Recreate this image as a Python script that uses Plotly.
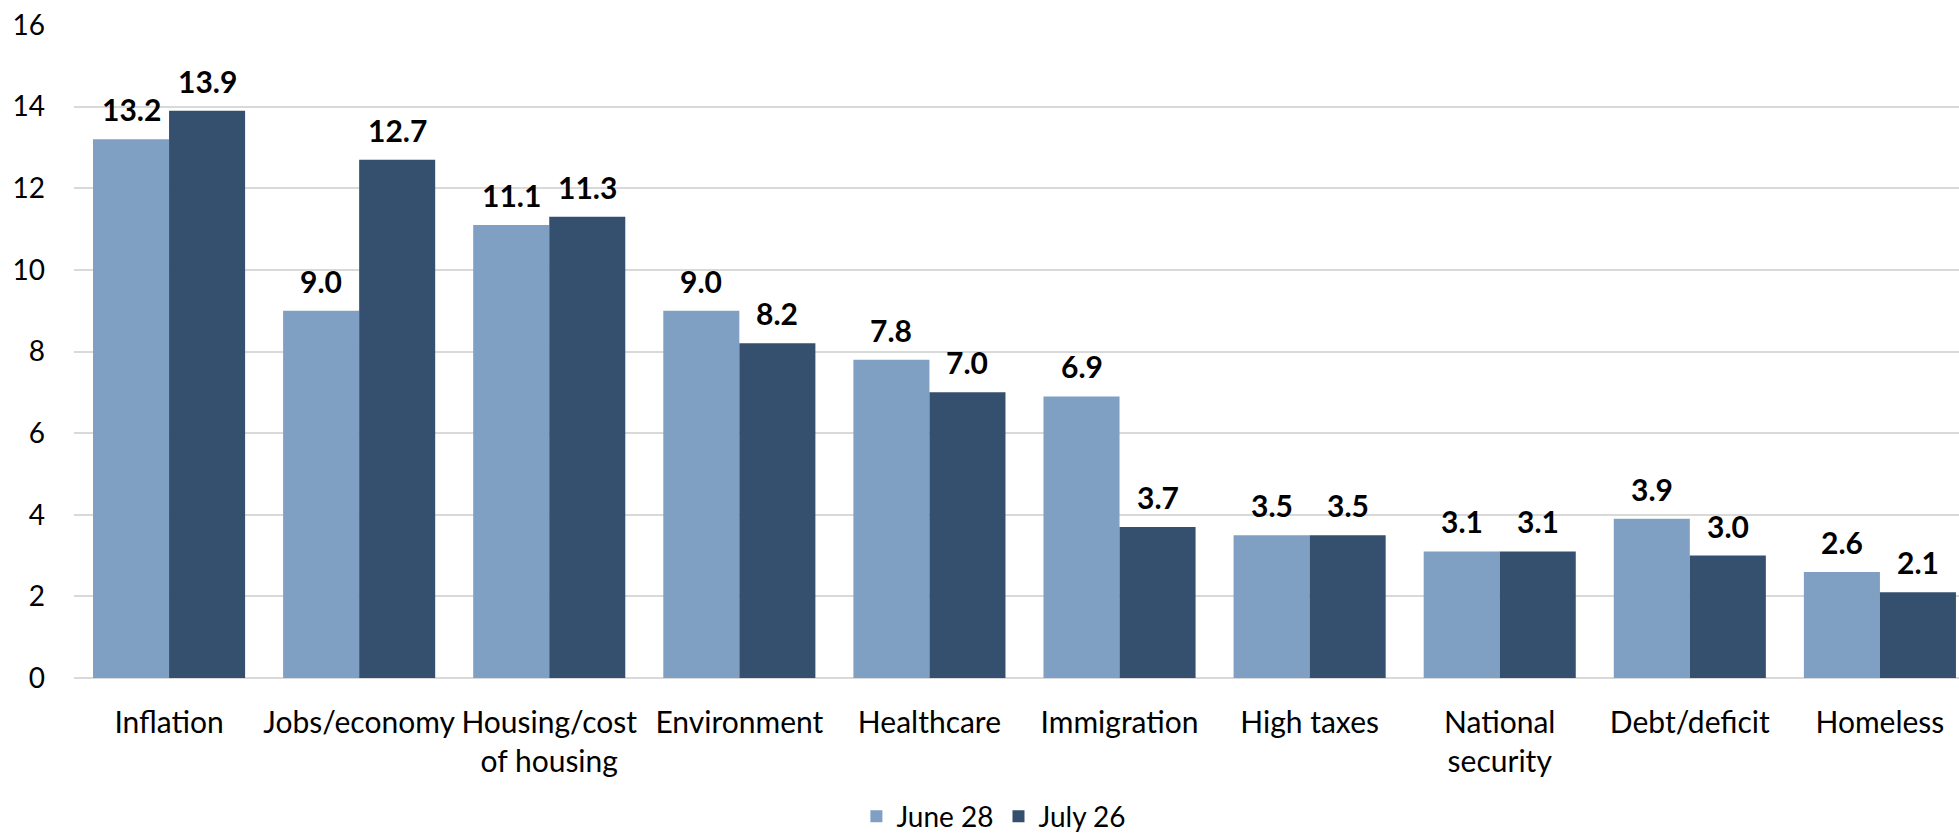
import plotly.graph_objects as go

categories = ["Inflation", "Jobs/economy", "Housing/cost<br>of housing", "Environment",
              "Healthcare", "Immigration", "High taxes", "National<br>security",
              "Debt/deficit", "Homeless"]
series_names = ["June 28", "July 26"]
june28 = [13.2, 9.0, 11.1, 9.0, 7.8, 6.9, 3.5, 3.1, 3.9, 2.6]
july26 = [13.9, 12.7, 11.3, 8.2, 7.0, 3.7, 3.5, 3.1, 3.0, 2.1]
y_ticks = [0, 2, 4, 6, 8, 10, 12, 14, 16]

colors = ["#7F9FC3", "#34506E"]
FONT = "Lato"

fig = go.Figure()
for name, vals, col in zip(series_names, [june28, july26], colors):
    fig.add_trace(go.Bar(x=list(range(len(categories))), y=vals, name=name,
                         marker=dict(color=col, line=dict(width=0))))

# data labels above bars
offsets = [-0.2, 0.2]
for vals, off in zip([june28, july26], offsets):
    for i, v in enumerate(vals):
        fig.add_annotation(x=i + off, y=v, text=f"{v:.1f}", showarrow=False,
                           yanchor="bottom", yshift=10,
                           font=dict(family=FONT, size=30, color="#000000", weight="bold"))

fig.update_layout(
    width=1959, height=834,
    margin=dict(l=74, r=0, t=25, b=156, autoexpand=False),
    paper_bgcolor="white", plot_bgcolor="white",
    barmode="group", bargap=0.2, bargroupgap=0,
    font=dict(family=FONT, color="#000000"),
    showlegend=True,
    legend=dict(orientation="h", x=0.488, xanchor="center", y=-0.212, yanchor="middle",
                font=dict(family=FONT, size=28, color="#000000"),
                itemwidth=30, tracegroupgap=0),
)
fig.update_xaxes(
    range=[-0.5, 9.416], tickmode="array", tickvals=list(range(len(categories))),
    ticktext=categories, tickfont=dict(family=FONT, size=30, color="#000000"),
    showgrid=False, zeroline=False, showline=False, ticks="", ticklabelstandoff=24,
    automargin=False,
)
fig.update_yaxes(
    range=[0, 16], tickmode="array", tickvals=y_ticks,
    tickfont=dict(family=FONT, size=28, color="#000000"),
    showgrid=True, gridcolor="#D9D9D9", gridwidth=2,
    zeroline=True, zerolinecolor="#D9D9D9", zerolinewidth=2,
    showline=False, ticks="", ticklabelstandoff=28, automargin=False,
)

fig.write_html("out.html", config={"displayModeBar": False},
               post_script="document.body.style.margin='0';document.body.style.overflow='hidden';")
